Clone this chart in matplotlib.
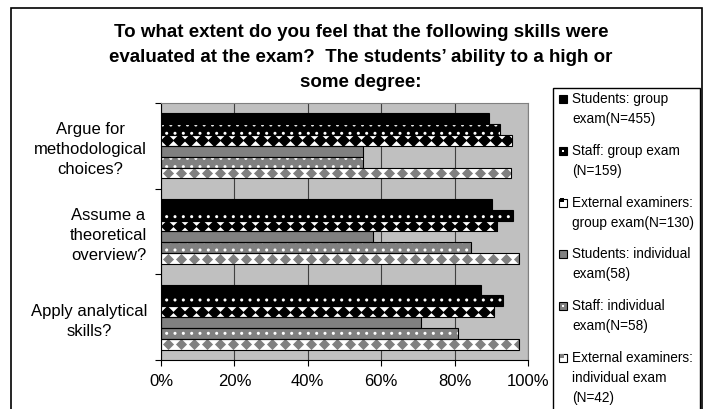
import numpy as np
import matplotlib
matplotlib.use("Agg")
import matplotlib.pyplot as plt
from matplotlib.patches import Rectangle

W, H = 707, 409

categories = ["Argue for\nmethodological\nchoices?",
              "Assume a\ntheoretical\noverview?",
              "Apply analytical\nskills?"]

series_labels = ["Students: group\nexam(N=455)",
                 "Staff: group exam\n(N=159)",
                 "External examiners:\ngroup exam(N=130)",
                 "Students: individual\nexam(58)",
                 "Staff: individual\nexam(N=58)",
                 "External examiners:\nindividual exam\n(N=42)"]

# percent answering "high" or "some degree", per category (top to bottom)
students_group = [89.4, 90.1, 87.1]
staff_group = [92.5, 95.8, 93.3]
external_group = [95.7, 91.5, 90.8]
students_individual = [55.0, 57.9, 70.8]
staff_individual = [55.0, 84.5, 81.0]
external_individual = [95.3, 97.6, 97.6]

series = [students_group, staff_group, external_group,
          students_individual, staff_individual, external_individual]

title = ("To what extent do you feel that the following skills were\n"
         "evaluated at the exam?  The students\u2019 ability to a high or\n"
         "some degree:")

# fill styles: (face, pattern, pattern colour)
styles = [("black", None, None),
          ("black", "dots", "white"),
          ("white", "diamonds", "black"),
          ("#808080", None, None),
          ("#808080", "dots", "white"),
          ("white", "diamonds", "#808080")]

plt.rcParams["font.family"] = ["Liberation Sans", "DejaVu Sans"]
plt.rcParams["hatch.linewidth"] = 1.0

DIAMOND = [(0, 1), (1, 0), (0, -1), (-1, 0), (0, 1)]


def px(x, y):
    return x / W, 1 - y / H


fig = plt.figure(figsize=(W / 100, H / 100), dpi=100)
ax = fig.add_axes([161 / W, 1 - 360 / H, 367 / W, 257 / H])
ax.set_facecolor("#c0c0c0")
ax.set_xlim(0, 100)
ax.set_ylim(len(categories) - 0.5, -0.5)

ycat = np.arange(len(categories))
h = 0.127
for i, (vals, (face, pat, pcol)) in enumerate(zip(series, styles)):
    yy = ycat + (i - (len(series) - 1) / 2) * h
    if pat == "dots":
        bars = ax.barh(yy, vals, height=h, color=face, edgecolor=pcol,
                       linewidth=0, hatch="..", zorder=2)
    else:
        bars = ax.barh(yy, vals, height=h, color=face, linewidth=0, zorder=2)
    if pat == "diamonds":
        step = 3.2 if pcol == "black" else 3.55
        ms = 9.5 if pcol == "black" else 8.0
        for b, v, yc in zip(bars, vals, yy):
            xs = np.arange(step / 2, v + step, step)
            ln, = ax.plot(xs, np.full(len(xs), yc), ls="none", marker=DIAMOND,
                          ms=ms, mfc=pcol, mec="none", zorder=3)
            ln.set_clip_path(b)
    ax.barh(yy, vals, height=h, fill=False, edgecolor="black", linewidth=0.8, zorder=4)

# grid and frame
ax.set_axisbelow(True)
ax.set_xticks(np.arange(0, 101, 20))
ax.set_xticklabels([f"{t}%" for t in range(0, 101, 20)])
ax.xaxis.grid(True, color="#404040", linewidth=0.8)
for s in ("top", "right"):
    ax.spines[s].set_color("#808080")
ax.spines["left"].set_color("black")
ax.spines["bottom"].set_color("black")
ax.tick_params(axis="x", direction="out", length=4, width=0.8, pad=6, labelsize=12)

ax.set_yticks(np.arange(len(categories) + 1) - 0.5)
ax.set_yticklabels([])
ax.tick_params(axis="y", which="major", direction="out", length=4, width=0.8)
ax.set_yticks(ycat, minor=True)
ax.set_yticklabels(categories, minor=True, fontsize=12)
ax.tick_params(axis="y", which="minor", length=0, pad=10)
for lbl in ax.get_yticklabels(minor=True):
    lbl.set_multialignment("center")
    lbl.set_linespacing(1.42)

# chart title
fig.text(*px(361, 57.5), title, ha="center", va="center", fontsize=13.5,
         fontweight="bold", linespacing=1.62)

# outer frame and legend box
fig.add_artist(Rectangle(px(11, 430), (702 - 11) / W, (430 - 8) / H,
                         transform=fig.transFigure, fill=False, lw=1.2, ec="black"))
fig.add_artist(Rectangle(px(553, 430), (700 - 553) / W, (430 - 88) / H,
                         transform=fig.transFigure, fill=False, lw=1.0, ec="black"))

# legend entries, drawn by hand so the marker sits on the first line
for k, (lab, (face, pat, pcol)) in enumerate(zip(series_labels, styles)):
    y0 = 99 + 51.8 * k
    fig.add_artist(Rectangle(px(559, y0 + 4), 8 / W, 8 / H, transform=fig.transFigure,
                             fc=face, ec="black", lw=0.8, zorder=5))
    if pat == "dots":
        fig.add_artist(Rectangle(px(562, y0 + 1), 2 / W, 2 / H, transform=fig.transFigure,
                                 fc=pcol, ec="none", zorder=6))
    elif pat == "diamonds":
        fig.add_artist(Rectangle(px(559.5, y0 - 0.5), 4 / W, 4 / H, transform=fig.transFigure,
                                 fc=pcol, ec="none", zorder=6))
    for j, line in enumerate(lab.split("\n")):
        fig.text(*px(572, y0 + 20 * j), line, ha="left", va="center", fontsize=9.8)

fig.savefig("out.png", dpi=100)
